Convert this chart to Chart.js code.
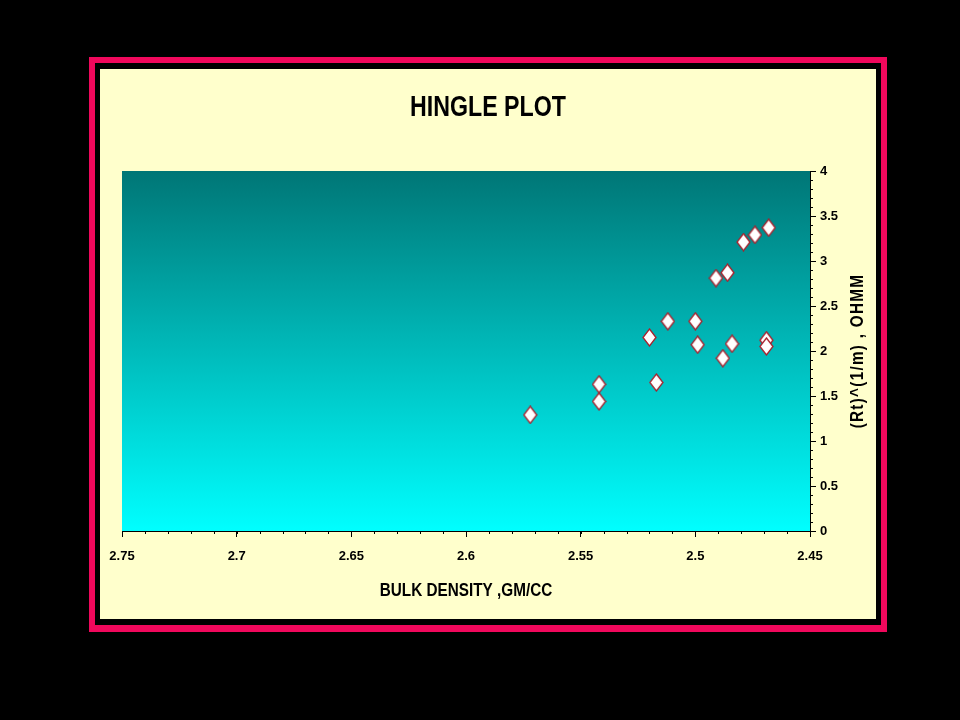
<!DOCTYPE html>
<html>
<head>
<meta charset="utf-8">
<title>Hingle Plot</title>
<script src="https://cdn.jsdelivr.net/npm/chart.js@4/dist/chart.umd.min.js"></script>
<style>
  html, body { margin: 0; padding: 0; background: #000; }
  #wrap { width: 960px; height: 720px; }
</style>
</head>
<body>
<div id="wrap"><canvas id="hingleChart" width="960" height="720"></canvas></div>
<script>
// bulk density (gm/cc) and (Rt)^(1/m) for each sample
const bulkDensity = [2.572, 2.542, 2.542, 2.520, 2.512, 2.517, 2.500, 2.499, 2.491,
                     2.486, 2.488, 2.484, 2.479, 2.474, 2.468, 2.469, 2.469];
const rtPower = [1.29, 1.63, 1.44, 2.15, 2.33, 1.65, 2.33, 2.07, 2.81,
                 2.87, 1.92, 2.08, 3.21, 3.29, 3.37, 2.12, 2.05];

const xTickLabels = ["2.45", "2.5", "2.55", "2.6", "2.65", "2.7", "2.75"];
const yTickLabels = ["0", "0.5", "1", "1.5", "2", "2.5", "3", "3.5", "4"];

const chartTitle = "HINGLE PLOT";
const xTitle = "BULK DENSITY ,GM/CC";
const yTitle = "(Rt)^(1/m) , OHMM";

const FONT = "'Liberation Sans', Arial, sans-serif";

// tall white diamond marker with dark red edge
function makeDiamond() {
  const c = document.createElement("canvas");
  c.width = 15;
  c.height = 19;
  const g = c.getContext("2d");
  g.beginPath();
  g.moveTo(7.5, 1);
  g.lineTo(14, 9.5);
  g.lineTo(7.5, 18);
  g.lineTo(1, 9.5);
  g.closePath();
  g.fillStyle = "#ffffff";
  g.fill();
  g.strokeStyle = "#a8202c";
  g.lineWidth = 1.3;
  g.stroke();
  return c;
}

const points = bulkDensity.map((d, i) => ({ x: d, y: rtPower[i] }));

// condensed bold text, like the narrow font of the original
function narrowText(ctx, text, x, y, size, rot, squeeze, spacing) {
  ctx.save();
  ctx.translate(x, y);
  ctx.rotate(rot);
  ctx.scale(squeeze, 1);
  ctx.fillStyle = "#000";
  ctx.font = "bold " + size + "px " + FONT;
  ctx.textAlign = "center";
  ctx.textBaseline = "middle";
  ctx.letterSpacing = spacing;
  ctx.fillText(text, 0, 0);
  ctx.restore();
}

// frame, plot background, minor ticks and titles
const decor = {
  id: "decor",
  beforeDraw(chart) {
    const { ctx, chartArea: a } = chart;
    ctx.save();
    ctx.fillStyle = "#000";
    ctx.fillRect(0, 0, chart.width, chart.height);
    ctx.fillStyle = "#f0085c";
    ctx.fillRect(89, 57, 798, 575);
    ctx.fillStyle = "#000";
    ctx.fillRect(95, 63, 786, 562);
    ctx.fillStyle = "#ffffcc";
    ctx.fillRect(100, 69, 776, 550);
    const grad = ctx.createLinearGradient(0, a.top, 0, a.bottom);
    grad.addColorStop(0, "#007676");
    grad.addColorStop(1, "#00ffff");
    ctx.fillStyle = grad;
    ctx.fillRect(a.left, a.top, a.right - a.left, a.bottom - a.top);
    ctx.restore();
  },
  afterDraw(chart) {
    const { ctx, chartArea: a, scales } = chart;
    ctx.save();
    ctx.strokeStyle = "#000";
    ctx.lineWidth = 1;
    ctx.beginPath();
    for (let k = 245; k <= 275; k++) {
      const px = Math.round(scales.x.getPixelForValue(k / 100)) + 0.5;
      ctx.moveTo(px, a.bottom);
      ctx.lineTo(px, a.bottom + 3);
    }
    for (let k = 0; k <= 40; k++) {
      const py = Math.round(scales.y.getPixelForValue(k / 10)) + 0.5;
      ctx.moveTo(a.right, py);
      ctx.lineTo(a.right + 3, py);
    }
    ctx.stroke();
    ctx.restore();

    narrowText(ctx, chartTitle, 488, 108, 29, 0, 0.8, "0px");
    narrowText(ctx, xTitle, (a.left + a.right) / 2, 591, 18, 0, 0.85, "0px");
    narrowText(ctx, yTitle, 858, (a.top + a.bottom) / 2, 18, -Math.PI / 2, 0.85, "1.5px");
  }
};

new Chart(document.getElementById("hingleChart").getContext("2d"), {
  type: "scatter",
  data: {
    datasets: [{
      label: "Hingle",
      data: points,
      pointStyle: makeDiamond(),
      pointRadius: 8,
      pointHoverRadius: 8
    }]
  },
  options: {
    responsive: false,
    animation: false,
    layout: { padding: { left: 122, right: 106, top: 171, bottom: 0 } },
    plugins: {
      legend: { display: false },
      tooltip: { enabled: false },
      title: { display: false }
    },
    scales: {
      x: {
        type: "linear",
        reverse: true,
        min: 2.45,
        max: 2.75,
        afterFit: (s) => { s.height = 189; },
        border: { display: true, color: "#000", width: 1 },
        grid: { drawOnChartArea: false, drawTicks: true, tickLength: 6, tickColor: "#000" },
        ticks: {
          stepSize: 0.05,
          padding: 12,
          color: "#000",
          maxRotation: 0,
          autoSkip: false,
          font: { family: FONT, size: 13, weight: "bold" },
          callback: (v) => xTickLabels.find(t => Math.abs(Number(t) - v) < 1e-6) ?? ""
        }
      },
      y: {
        type: "linear",
        position: "right",
        min: 0,
        max: 4,
        afterFit: (s) => { s.width = 44; },
        border: { display: true, color: "#000", width: 1 },
        grid: { drawOnChartArea: false, drawTicks: true, tickLength: 6, tickColor: "#000" },
        ticks: {
          stepSize: 0.5,
          padding: 4,
          color: "#000",
          autoSkip: false,
          font: { family: FONT, size: 13, weight: "bold" },
          callback: (v) => yTickLabels.find(t => Math.abs(Number(t) - v) < 1e-6) ?? ""
        }
      }
    }
  },
  plugins: [decor]
});
</script>
</body>
</html>
